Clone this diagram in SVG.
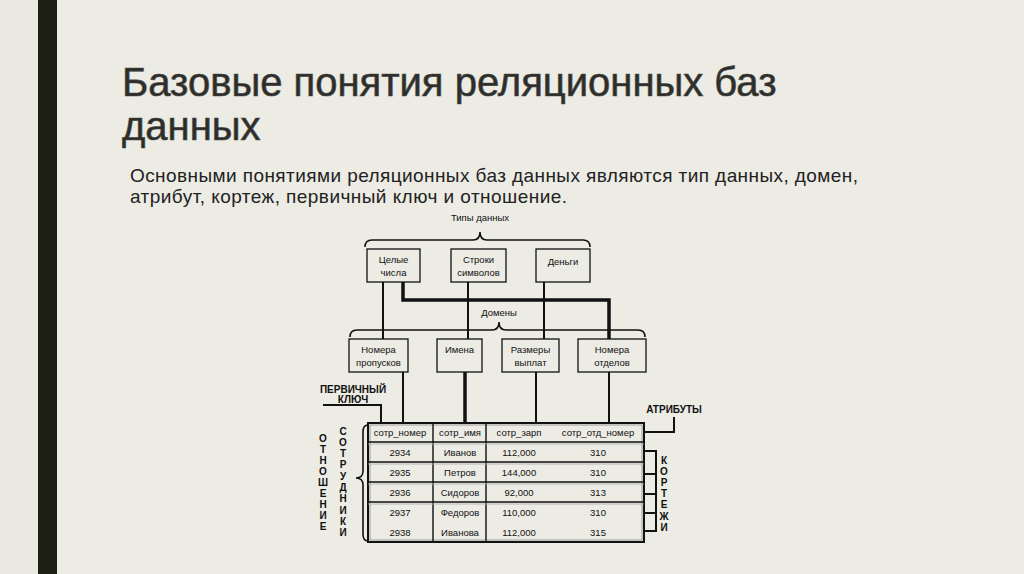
<svg xmlns="http://www.w3.org/2000/svg" width="1024" height="574" viewBox="0 0 1024 574">
<style>
.t{font-family:"Liberation Sans",Arial,sans-serif;fill:#111}
.s{font-size:9.5px;text-anchor:middle}
.v{font-size:10px;text-anchor:middle;font-weight:bold}
.box{fill:none;stroke:#111;stroke-width:1.3}
.ln{fill:none;stroke:#111;stroke-width:2}
.th{fill:none;stroke:#111;stroke-width:3.5}
.br{fill:none;stroke:#111;stroke-width:1.6}
</style>
<rect x="0" y="0" width="1024" height="574" fill="#ecebe4"/>
<rect x="0" y="0" width="38" height="574" fill="#e9e8e1"/>
<rect x="38" y="0" width="19" height="574" fill="#1e1f14"/>
<g id="title">
<text class="t" x="122" y="96" font-size="40" style="fill:#2c2c2a;stroke:#4a4a44;stroke-width:0.7">Базовые понятия реляционных баз</text>
<text class="t" x="122" y="140" font-size="40" style="fill:#2c2c2a;stroke:#4a4a44;stroke-width:0.7">данных</text>
</g>
<g id="subtitle">
<text class="t" x="130" y="182" font-size="19" textLength="728" lengthAdjust="spacing" style="fill:#222">Основными понятиями реляционных баз данных являются тип данных, домен,</text>
<text class="t" x="130" y="203" font-size="19" textLength="437" lengthAdjust="spacing" style="fill:#222">атрибут, кортеж, первичный ключ и отношение.</text>
</g>
<g id="connectors">
<path class="br" d="M365 247 Q365 240 372 240 H473 Q480 240 480 232 Q480 240 487 240 H583 Q590 240 590 247"/>
<path class="br" d="M350 337 Q350 330 357 330 H492 Q499 330 499 322 Q499 330 506 330 H638 Q645 330 645 337"/>
<path class="ln" d="M383 282 V339"/>
<path class="th" d="M403 282 V300 H609 V339"/>
<path class="ln" d="M468 282 V339"/>
<path class="ln" d="M544 282 V339"/>
<path class="ln" d="M403 372 V423"/>
<path class="th" d="M465 372 V423"/>
<path class="ln" d="M536 372 V423"/>
<path class="ln" d="M609 372 V423"/>
<path class="ln" d="M323 405 H381 V423"/>
<path class="ln" d="M644 432 H674 V417"/>
<path class="br" d="M368 425 Q363 425 363 432 V471 Q363 478 356 478 Q363 478 363 485 V534 Q363 541 368 541"/>
<path class="ln" d="M644 451 H656 V531 H644 M644 474 H656 M644 494 H656 M644 513 H656"/>
</g>
<g id="types-label"><text class="t s" x="480" y="221">Типы данных</text></g>
<g id="domains-label"><text class="t s" x="499" y="316">Домены</text></g>
<g id="node-int"><rect class="box" x="367" y="249" width="53" height="33"/><text class="t s" x="393.5" y="263">Целые</text><text class="t s" x="393.5" y="276">числа</text></g>
<g id="node-str"><rect class="box" x="451" y="249" width="55" height="33"/><text class="t s" x="478.5" y="263">Строки</text><text class="t s" x="478.5" y="276">символов</text></g>
<g id="node-money"><rect class="box" x="536" y="249" width="54" height="33"/><text class="t s" x="563" y="265">Деньги</text></g>
<g id="node-passnum"><rect class="box" x="349" y="339" width="59" height="33"/><text class="t s" x="378.5" y="353">Номера</text><text class="t s" x="378.5" y="366">пропусков</text></g>
<g id="node-names"><rect class="box" x="437" y="339" width="45" height="33"/><text class="t s" x="459.5" y="353">Имена</text></g>
<g id="node-pay"><rect class="box" x="502" y="339" width="57" height="33"/><text class="t s" x="530.5" y="353">Размеры</text><text class="t s" x="530.5" y="366">выплат</text></g>
<g id="node-dept"><rect class="box" x="578" y="339" width="68" height="33"/><text class="t s" x="612" y="353">Номера</text><text class="t s" x="612" y="366">отделов</text></g>
<g id="pk-label"><text class="t" x="353" y="393" font-size="10" font-weight="bold" text-anchor="middle">ПЕРВИЧНЫЙ</text><text class="t" x="353" y="403" font-size="10" font-weight="bold" text-anchor="middle">КЛЮЧ</text></g>
<g id="attr-label"><text class="t" x="674" y="413" font-size="10" font-weight="bold" text-anchor="middle">АТРИБУТЫ</text></g>
<g id="table">
<rect x="368" y="423" width="276" height="119" fill="none" stroke="#111" stroke-width="2"/>
<rect x="370" y="425" width="272" height="115" fill="none" stroke="#888" stroke-width="0.8"/>
<path d="M368 442 H644 M368 462 H644 M368 482 H644 M368 502 H644 M433 423 V542 M486 423 V542" stroke="#111" stroke-width="1.4" fill="none"/>
<path d="M368 444 H644 M368 464 H644 M368 484 H644 M368 504 H644" stroke="#aaa" stroke-width="0.8" fill="none"/>
<text class="t s" x="400" y="436">сотр_номер</text><text class="t s" x="460" y="436">сотр_имя</text><text class="t s" x="519" y="436">сотр_зарп</text><text class="t s" x="598" y="436">сотр_отд_номер</text>
<text class="t s" x="400" y="456">2934</text><text class="t s" x="460" y="456">Иванов</text><text class="t s" x="519" y="456">112,000</text><text class="t s" x="598" y="456">310</text>
<text class="t s" x="400" y="476">2935</text><text class="t s" x="460" y="476">Петров</text><text class="t s" x="519" y="476">144,000</text><text class="t s" x="598" y="476">310</text>
<text class="t s" x="400" y="496">2936</text><text class="t s" x="460" y="496">Сидоров</text><text class="t s" x="519" y="496">92,000</text><text class="t s" x="598" y="496">313</text>
<text class="t s" x="400" y="516">2937</text><text class="t s" x="460" y="516">Федоров</text><text class="t s" x="519" y="516">110,000</text><text class="t s" x="598" y="516">310</text>
<text class="t s" x="400" y="536">2938</text><text class="t s" x="460" y="536">Иванова</text><text class="t s" x="519" y="536">112,000</text><text class="t s" x="598" y="536">315</text>
</g>
<g id="relation-label">
<text class="t v" x="323" y="442">О</text><text class="t v" x="323" y="453">Т</text><text class="t v" x="323" y="464">Н</text><text class="t v" x="323" y="475">О</text><text class="t v" x="323" y="486">Ш</text><text class="t v" x="323" y="497">Е</text><text class="t v" x="323" y="508">Н</text><text class="t v" x="323" y="519">И</text><text class="t v" x="323" y="530">Е</text>
</g>
<g id="employees-label">
<text class="t v" x="343" y="435">С</text><text class="t v" x="343" y="446">О</text><text class="t v" x="343" y="457">Т</text><text class="t v" x="343" y="468">Р</text><text class="t v" x="343" y="480">У</text><text class="t v" x="343" y="491">Д</text><text class="t v" x="343" y="502">Н</text><text class="t v" x="343" y="514">И</text><text class="t v" x="343" y="525">К</text><text class="t v" x="343" y="536">И</text>
</g>
<g id="tuples-label">
<text class="t v" x="664" y="464">К</text><text class="t v" x="664" y="475">О</text><text class="t v" x="664" y="486">Р</text><text class="t v" x="664" y="497">Т</text><text class="t v" x="664" y="508">Е</text><text class="t v" x="664" y="520">Ж</text><text class="t v" x="664" y="531">И</text>
</g>
</svg>
